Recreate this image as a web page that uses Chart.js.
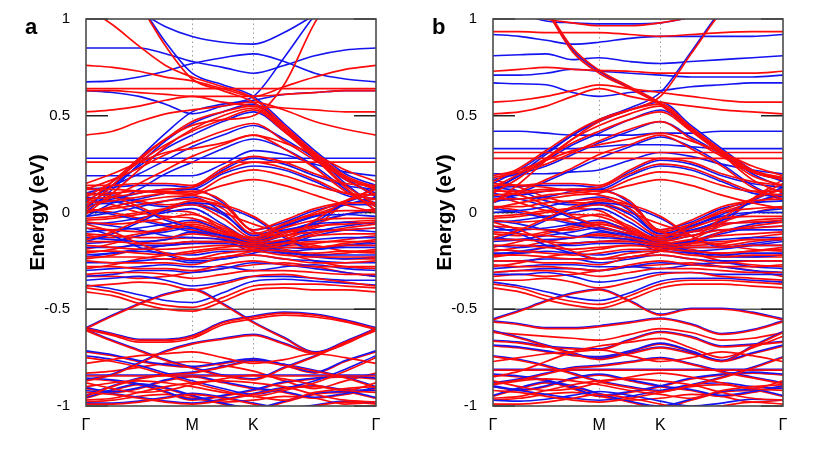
<!DOCTYPE html>
<html>
<head>
<meta charset="utf-8">
<script src="https://cdn.jsdelivr.net/npm/chart.js@4.4.1/dist/chart.umd.min.js"></script>
<style>
html,body{margin:0;padding:0;background:#fff;}
#wrap{position:relative;width:831px;height:450px;overflow:hidden;background:#fff;}
canvas{position:absolute;top:0;}
#ca{left:0;}
#cb{left:407px;}
</style>
</head>
<body>
<div id="wrap">
<canvas id="ca" width="400" height="450"></canvas>
<canvas id="cb" width="400" height="450"></canvas>
</div>
<script>
// k-path sample positions (Γ, ..., M, ..., K, ..., Γ)
const KX = [0, 0.25, 0.5, 0.75, 1, 1.289, 1.577, 1.866, 2.155, 2.443, 2.732];
const KPOS = [0, 1, 1.577, 2.732];
const KLAB = ["Γ", "M", "K", "Γ"];
const YTICKS = [-1, -0.5, 0, 0.5, 1];
const PANELS = ["a", "b"];

// ---------- panel a : spin-up (blue) ----------
const aBlueHigh = [
 [1.20,1.12,1.04,0.96,0.91,0.88,0.87,0.93,1.02,1.10,1.18],
 [0.85,0.85,0.85,0.82,0.78,0.75,0.72,0.76,0.81,0.84,0.85],
 [0.675,0.68,0.70,0.73,0.77,0.80,0.82,0.78,0.72,0.69,0.675],
 [0.63,0.62,0.60,0.56,0.51,0.55,0.58,0.61,0.62,0.63,0.63],
 [0.02,0.14,0.28,0.41,0.52,0.56,0.60,0.80,1.02,1.20,1.30],
 [0.28,0.28,0.28,0.28,0.28,0.28,0.28,0.28,0.28,0.28,0.28],
 [1.40,1.25,1.08,0.88,0.72,0.66,0.60,0.46,0.32,0.20,0.14]
];
const aBlueDisp = [
 [0.00,0.12,0.25,0.37,0.46,0.52,0.56,0.44,0.30,0.15,0.03],
 [0.06,0.14,0.24,0.33,0.40,0.47,0.52,0.42,0.30,0.18,0.08],
 [0.10,0.14,0.20,0.27,0.34,0.40,0.45,0.38,0.28,0.17,0.10],
 [-0.02,0.05,0.12,0.20,0.26,0.33,0.38,0.33,0.24,0.12,0.01],
 [0.12,0.13,0.14,0.14,0.13,0.22,0.28,0.25,0.19,0.14,0.12],
 [0.05,0.07,0.10,0.12,0.12,0.20,0.24,0.22,0.16,0.09,0.05],
 [0.19,0.19,0.19,0.19,0.19,0.25,0.32,0.30,0.25,0.21,0.19]
];
const aBlueDense = [
 [0.04,0.05,0.07,0.10,0.12,0.05,-0.09,-0.05,0.01,0.04,0.04],
 [-0.02,0.00,0.03,0.06,0.08,0.00,-0.12,-0.07,-0.02,-0.01,-0.02],
 [-0.06,-0.05,-0.03,0.00,0.02,-0.06,-0.14,-0.10,-0.06,-0.05,-0.06],
 [-0.10,-0.09,-0.08,-0.06,-0.04,-0.10,-0.16,-0.12,-0.09,-0.09,-0.10],
 [-0.13,-0.14,-0.15,-0.14,-0.10,-0.13,-0.17,-0.15,-0.14,-0.13,-0.13],
 [-0.18,-0.18,-0.17,-0.17,-0.16,-0.16,-0.18,-0.18,-0.19,-0.18,-0.18],
 [-0.22,-0.21,-0.20,-0.21,-0.22,-0.20,-0.20,-0.21,-0.22,-0.22,-0.22],
 [-0.26,-0.26,-0.25,-0.24,-0.26,-0.24,-0.22,-0.24,-0.25,-0.26,-0.26],
 [-0.30,-0.29,-0.28,-0.27,-0.28,-0.28,-0.30,-0.28,-0.27,-0.29,-0.30],
 [-0.35,-0.34,-0.33,-0.35,-0.38,-0.36,-0.33,-0.33,-0.34,-0.35,-0.35],
 [0.08,0.06,0.02,-0.04,-0.08,-0.12,-0.14,-0.07,-0.02,0.04,0.08],
 [-0.08,-0.12,-0.18,-0.22,-0.25,-0.24,-0.21,-0.17,-0.12,-0.09,-0.08],
 [-0.15,-0.11,-0.05,0.01,0.05,0.03,-0.03,-0.13,-0.19,-0.17,-0.15]
];
const aBlueExtra = [
 [0.01,-0.01,-0.04,-0.07,-0.10,-0.13,-0.15,-0.10,-0.05,-0.01,0.01],
 [-0.16,-0.15,-0.12,-0.10,-0.08,-0.12,-0.18,-0.20,-0.19,-0.17,-0.16],
 [-0.23,-0.21,-0.19,-0.17,-0.15,-0.15,-0.16,-0.20,-0.23,-0.24,-0.23],
 [0.10,0.09,0.05,0.03,0.04,-0.01,-0.11,-0.09,-0.05,0.05,0.10],
 [-0.33,-0.32,-0.30,-0.30,-0.31,-0.29,-0.26,-0.27,-0.29,-0.31,-0.33],
 [-0.05,-0.07,-0.09,-0.12,-0.13,-0.14,-0.20,-0.15,-0.10,-0.07,-0.05]
];
const aBlueLow = [
 [-0.375,-0.395,-0.425,-0.455,-0.465,-0.415,-0.355,-0.345,-0.355,-0.365,-0.375],
 [-0.595,-0.53,-0.47,-0.42,-0.395,-0.47,-0.565,-0.645,-0.72,-0.675,-0.595],
 [-0.595,-0.625,-0.655,-0.655,-0.635,-0.565,-0.535,-0.515,-0.525,-0.555,-0.595],
 [-0.84,-0.84,-0.84,-0.84,-0.84,-0.84,-0.84,-0.84,-0.84,-0.84,-0.84],
 [-0.605,-0.66,-0.71,-0.76,-0.80,-0.84,-0.86,-0.80,-0.74,-0.67,-0.605],
 [-0.865,-0.835,-0.775,-0.715,-0.675,-0.65,-0.63,-0.675,-0.725,-0.665,-0.60],
 [-0.945,-0.895,-0.855,-0.835,-0.825,-0.795,-0.765,-0.785,-0.815,-0.85,-0.90],
 [-0.92,-0.935,-0.955,-0.975,-0.985,-0.965,-0.935,-0.905,-0.895,-0.915,-0.92],
 [-0.74,-0.76,-0.79,-0.83,-0.87,-0.91,-0.94,-0.91,-0.87,-0.81,-0.74],
 [-0.985,-0.985,-0.975,-0.955,-0.935,-0.955,-0.985,-1.01,-0.995,-0.975,-0.985]
];
const aBlueDeep = [
 [-0.955,-0.915,-0.885,-0.905,-0.945,-0.985,-1.01,-0.975,-0.935,-0.925,-0.955],
 [-0.855,-0.865,-0.885,-0.925,-0.965,-0.945,-0.915,-0.875,-0.855,-0.845,-0.855],
 [-0.715,-0.735,-0.765,-0.785,-0.795,-0.775,-0.755,-0.785,-0.825,-0.765,-0.715],
 [-0.905,-0.925,-0.905,-0.865,-0.845,-0.875,-0.905,-0.925,-0.955,-0.935,-0.905]
];
// ---------- panel a : spin-down (red) ----------
const aRedHigh = [
 [1.06,0.97,0.86,0.76,0.70,0.65,0.59,0.45,0.31,0.19,0.13],
 [1.45,1.28,1.08,0.86,0.69,0.63,0.57,0.44,0.30,0.18,0.12],
 [0.76,0.75,0.73,0.70,0.68,0.64,0.60,0.65,0.70,0.74,0.76],
 [0.64,0.64,0.64,0.64,0.64,0.64,0.64,0.64,0.64,0.64,0.64],
 [0.63,0.63,0.62,0.61,0.60,0.60,0.60,0.61,0.62,0.63,0.63],
 [0.52,0.53,0.55,0.58,0.60,0.57,0.55,0.54,0.53,0.52,0.52],
 [0.40,0.42,0.47,0.51,0.53,0.55,0.57,0.53,0.47,0.43,0.40],
 [0.26,0.26,0.26,0.26,0.26,0.26,0.26,0.26,0.26,0.26,0.26],
 [0.05,0.16,0.28,0.38,0.45,0.48,0.50,0.66,0.98,1.20,1.30]
];
const aRedDisp = [
 [0.03,0.14,0.27,0.38,0.47,0.52,0.55,0.43,0.29,0.14,0.04],
 [0.08,0.16,0.26,0.35,0.42,0.48,0.53,0.42,0.29,0.17,0.09],
 [0.12,0.17,0.23,0.30,0.36,0.42,0.46,0.37,0.27,0.18,0.12],
 [0.02,0.08,0.15,0.22,0.29,0.35,0.40,0.33,0.23,0.11,0.03],
 [0.14,0.14,0.15,0.15,0.14,0.23,0.29,0.26,0.20,0.15,0.14],
 [0.07,0.08,0.10,0.12,0.13,0.21,0.26,0.23,0.17,0.10,0.07],
 [0.09,0.10,0.11,0.11,0.10,0.18,0.22,0.19,0.14,0.10,0.09],
 [0.00,0.03,0.06,0.08,0.09,0.14,0.17,0.14,0.09,0.04,0.00],
 [0.15,0.20,0.26,0.31,0.33,0.36,0.40,0.36,0.30,0.22,0.16],
 [-0.01,0.10,0.22,0.34,0.43,0.50,0.54,0.42,0.28,0.13,0.01]
];
const aRedDense = [
 [0.05,0.06,0.08,0.10,0.11,0.06,-0.09,-0.04,0.02,0.05,0.05],
 [0.01,0.02,0.04,0.06,0.07,0.02,-0.11,-0.06,-0.01,0.01,0.01],
 [-0.03,-0.02,0.00,0.02,0.04,-0.03,-0.13,-0.08,-0.04,-0.03,-0.03],
 [-0.05,-0.06,-0.05,-0.03,-0.01,-0.07,-0.14,-0.10,-0.07,-0.06,-0.05],
 [-0.08,-0.09,-0.10,-0.09,-0.06,-0.10,-0.15,-0.12,-0.10,-0.09,-0.08],
 [-0.11,-0.12,-0.13,-0.13,-0.11,-0.13,-0.16,-0.14,-0.12,-0.11,-0.11],
 [-0.15,-0.15,-0.16,-0.16,-0.15,-0.15,-0.17,-0.16,-0.15,-0.15,-0.15],
 [-0.17,-0.18,-0.19,-0.19,-0.18,-0.17,-0.18,-0.18,-0.18,-0.17,-0.17],
 [-0.20,-0.20,-0.21,-0.22,-0.21,-0.19,-0.19,-0.20,-0.21,-0.20,-0.20],
 [-0.23,-0.23,-0.23,-0.24,-0.24,-0.21,-0.20,-0.22,-0.23,-0.23,-0.23],
 [-0.25,-0.26,-0.26,-0.26,-0.27,-0.23,-0.22,-0.24,-0.26,-0.26,-0.25],
 [-0.28,-0.28,-0.29,-0.29,-0.30,-0.27,-0.25,-0.27,-0.28,-0.28,-0.28],
 [-0.32,-0.31,-0.31,-0.32,-0.34,-0.32,-0.30,-0.30,-0.31,-0.32,-0.32],
 [0.10,0.08,0.03,-0.03,-0.07,-0.11,-0.13,-0.06,0.00,0.06,0.10],
 [-0.06,-0.10,-0.16,-0.21,-0.24,-0.23,-0.20,-0.16,-0.11,-0.08,-0.06],
 [0.12,0.12,0.11,0.10,0.09,0.04,-0.10,-0.12,-0.04,0.06,0.12],
 [-0.38,-0.37,-0.36,-0.37,-0.40,-0.37,-0.33,-0.32,-0.34,-0.36,-0.38],
 [-0.14,-0.10,-0.04,0.02,0.06,0.04,-0.02,-0.12,-0.18,-0.16,-0.14]
];
const aRedExtra = [
 [0.02,0.00,-0.03,-0.06,-0.09,-0.12,-0.15,-0.11,-0.06,-0.01,0.02],
 [-0.12,-0.13,-0.11,-0.08,-0.05,-0.09,-0.15,-0.17,-0.16,-0.14,-0.12],
 [-0.19,-0.16,-0.12,-0.09,-0.07,-0.11,-0.17,-0.20,-0.22,-0.21,-0.19],
 [-0.24,-0.22,-0.19,-0.17,-0.16,-0.15,-0.16,-0.19,-0.22,-0.24,-0.24],
 [-0.29,-0.27,-0.24,-0.22,-0.20,-0.18,-0.17,-0.21,-0.25,-0.28,-0.29],
 [0.07,0.04,0.00,-0.02,-0.03,-0.08,-0.14,-0.08,-0.01,0.04,0.07],
 [-0.04,-0.03,-0.01,0.01,0.00,-0.09,-0.19,-0.14,-0.08,-0.05,-0.04],
 [-0.33,-0.33,-0.34,-0.33,-0.31,-0.29,-0.27,-0.26,-0.28,-0.31,-0.33],
 [-0.21,-0.19,-0.16,-0.14,-0.13,-0.14,-0.16,-0.15,-0.17,-0.20,-0.21],
 [0.13,0.10,0.06,0.04,0.05,0.00,-0.06,-0.10,-0.07,0.05,0.13]
];
const aRedLow = [
 [-0.39,-0.41,-0.45,-0.48,-0.49,-0.44,-0.38,-0.37,-0.37,-0.38,-0.39],
 [-0.41,-0.43,-0.47,-0.50,-0.51,-0.46,-0.40,-0.39,-0.40,-0.40,-0.41],
 [-0.60,-0.535,-0.475,-0.425,-0.40,-0.475,-0.57,-0.65,-0.725,-0.68,-0.60],
 [-0.60,-0.63,-0.66,-0.66,-0.64,-0.57,-0.54,-0.52,-0.53,-0.56,-0.60],
 [-0.605,-0.635,-0.67,-0.67,-0.65,-0.58,-0.55,-0.53,-0.54,-0.565,-0.605],
 [-0.61,-0.665,-0.715,-0.765,-0.805,-0.845,-0.865,-0.805,-0.745,-0.675,-0.61],
 [-0.845,-0.845,-0.845,-0.845,-0.845,-0.845,-0.845,-0.845,-0.845,-0.845,-0.845],
 [-0.87,-0.84,-0.78,-0.72,-0.68,-0.655,-0.635,-0.68,-0.73,-0.67,-0.605],
 [-0.95,-0.90,-0.86,-0.84,-0.83,-0.80,-0.77,-0.79,-0.82,-0.855,-0.905],
 [-0.75,-0.77,-0.80,-0.84,-0.88,-0.92,-0.95,-0.92,-0.88,-0.82,-0.75],
 [-0.90,-0.88,-0.87,-0.88,-0.90,-0.93,-0.95,-0.97,-0.93,-0.91,-0.90],
 [-0.93,-0.94,-0.96,-0.98,-0.99,-0.97,-0.94,-0.91,-0.90,-0.92,-0.93],
 [-0.97,-0.96,-0.93,-0.90,-0.88,-0.87,-0.88,-0.90,-0.94,-0.97,-0.98],
 [-0.99,-0.99,-0.98,-0.96,-0.94,-0.96,-0.99,-1.02,-1.00,-0.98,-0.99],
 [-0.78,-0.76,-0.74,-0.73,-0.72,-0.75,-0.78,-0.76,-0.73,-0.75,-0.78],
 [-0.88,-0.91,-0.93,-0.92,-0.89,-0.86,-0.84,-0.86,-0.89,-0.92,-0.88]
];
const aRedDeep = [
 [-0.96,-0.92,-0.89,-0.91,-0.95,-0.99,-1.02,-0.98,-0.94,-0.93,-0.96],
 [-0.91,-0.93,-0.91,-0.87,-0.85,-0.88,-0.91,-0.93,-0.96,-0.94,-0.91],
 [-0.86,-0.87,-0.89,-0.93,-0.97,-0.95,-0.92,-0.88,-0.86,-0.85,-0.86],
 [-0.98,-0.97,-0.95,-0.94,-0.96,-0.98,-0.97,-0.95,-0.96,-0.99,-0.98],
 [-0.72,-0.74,-0.77,-0.79,-0.80,-0.78,-0.76,-0.79,-0.83,-0.77,-0.72],
 [-0.83,-0.82,-0.80,-0.78,-0.77,-0.79,-0.82,-0.87,-0.91,-0.87,-0.83]
];

// ---------- panel b : spin-up (blue) ----------
const bBlueHigh = [
 [1.08,1.03,0.99,0.98,0.975,0.975,0.98,1.01,1.05,1.08,1.08],
 [0.92,0.91,0.89,0.87,0.88,0.90,0.91,0.91,0.91,0.91,0.92],
 [0.81,0.815,0.82,0.79,0.80,0.78,0.77,0.78,0.79,0.80,0.81],
 [0.71,0.71,0.72,0.74,0.73,0.72,0.71,0.70,0.70,0.70,0.71],
 [0.67,0.665,0.66,0.62,0.60,0.62,0.63,0.65,0.66,0.67,0.67],
 [0.10,0.20,0.30,0.40,0.48,0.54,0.62,0.83,1.05,1.20,1.30],
 [0.42,0.42,0.41,0.40,0.40,0.40,0.41,0.41,0.42,0.42,0.42],
 [0.33,0.33,0.33,0.33,0.34,0.35,0.35,0.34,0.33,0.33,0.33],
 [1.52,1.29,1.05,0.84,0.73,0.645,0.56,0.435,0.315,0.215,0.175]
];
const bBlueDisp = [
 [0.15,0.22,0.31,0.40,0.47,0.53,0.57,0.45,0.33,0.22,0.16],
 [0.12,0.19,0.27,0.35,0.41,0.48,0.53,0.43,0.31,0.20,0.13],
 [0.17,0.20,0.24,0.30,0.36,0.42,0.47,0.39,0.30,0.21,0.17],
 [0.05,0.10,0.16,0.22,0.28,0.34,0.39,0.34,0.25,0.14,0.06],
 [0.13,0.135,0.14,0.14,0.13,0.21,0.27,0.25,0.19,0.15,0.13],
 [0.08,0.09,0.11,0.12,0.12,0.19,0.24,0.22,0.16,0.10,0.08],
 [0.20,0.20,0.20,0.21,0.22,0.27,0.31,0.29,0.25,0.22,0.20]
];
const bBlueDense = [
 [0.06,0.07,0.08,0.11,0.12,0.05,-0.09,-0.05,0.02,0.05,0.06],
 [0.00,0.01,0.03,0.06,0.08,0.01,-0.11,-0.07,-0.02,0.00,0.00],
 [-0.05,-0.04,-0.02,0.00,0.02,-0.05,-0.13,-0.10,-0.06,-0.05,-0.05],
 [-0.09,-0.09,-0.08,-0.06,-0.04,-0.10,-0.15,-0.12,-0.09,-0.09,-0.09],
 [-0.13,-0.14,-0.14,-0.13,-0.10,-0.13,-0.17,-0.15,-0.14,-0.13,-0.13],
 [-0.17,-0.18,-0.17,-0.17,-0.16,-0.16,-0.18,-0.18,-0.18,-0.17,-0.17],
 [-0.21,-0.21,-0.20,-0.21,-0.22,-0.20,-0.20,-0.21,-0.22,-0.21,-0.21],
 [-0.25,-0.25,-0.24,-0.24,-0.26,-0.24,-0.22,-0.24,-0.25,-0.25,-0.25],
 [-0.29,-0.28,-0.27,-0.27,-0.28,-0.28,-0.29,-0.27,-0.26,-0.28,-0.29],
 [-0.32,-0.32,-0.31,-0.33,-0.36,-0.34,-0.31,-0.31,-0.32,-0.32,-0.32],
 [0.10,0.07,0.03,-0.03,-0.07,-0.11,-0.13,-0.07,-0.01,0.05,0.10],
 [-0.07,-0.11,-0.17,-0.21,-0.24,-0.23,-0.20,-0.16,-0.11,-0.08,-0.07],
 [-0.14,-0.10,-0.04,0.02,0.05,0.03,-0.03,-0.12,-0.18,-0.16,-0.14]
];
const bBlueExtra = [
 [0.02,0.00,-0.03,-0.06,-0.09,-0.12,-0.15,-0.10,-0.04,0.00,0.02],
 [-0.15,-0.14,-0.12,-0.10,-0.08,-0.12,-0.18,-0.20,-0.19,-0.17,-0.15],
 [-0.22,-0.20,-0.18,-0.16,-0.15,-0.15,-0.16,-0.20,-0.23,-0.23,-0.22],
 [0.13,0.11,0.06,0.04,0.04,-0.01,-0.11,-0.09,-0.04,0.06,0.13],
 [-0.31,-0.30,-0.29,-0.29,-0.30,-0.28,-0.26,-0.27,-0.28,-0.30,-0.31],
 [-0.04,-0.06,-0.09,-0.12,-0.13,-0.14,-0.20,-0.15,-0.10,-0.06,-0.04]
];
const bBlueLow = [
 [-0.36,-0.38,-0.41,-0.44,-0.455,-0.415,-0.355,-0.34,-0.34,-0.35,-0.36],
 [-0.55,-0.505,-0.455,-0.415,-0.395,-0.455,-0.525,-0.495,-0.495,-0.515,-0.55],
 [-0.56,-0.575,-0.595,-0.595,-0.585,-0.565,-0.545,-0.575,-0.625,-0.605,-0.56],
 [-0.81,-0.81,-0.81,-0.81,-0.81,-0.81,-0.81,-0.81,-0.81,-0.81,-0.81],
 [-0.61,-0.645,-0.685,-0.725,-0.755,-0.725,-0.695,-0.725,-0.765,-0.69,-0.615],
 [-0.66,-0.67,-0.69,-0.70,-0.705,-0.655,-0.615,-0.64,-0.69,-0.68,-0.665],
 [-0.88,-0.86,-0.83,-0.80,-0.79,-0.77,-0.75,-0.78,-0.82,-0.85,-0.88],
 [-0.90,-0.92,-0.94,-0.96,-0.97,-0.95,-0.92,-0.89,-0.88,-0.90,-0.91],
 [-0.74,-0.76,-0.79,-0.83,-0.87,-0.90,-0.92,-0.89,-0.85,-0.80,-0.745],
 [-0.97,-0.975,-0.965,-0.945,-0.925,-0.945,-0.975,-1.0,-0.985,-0.965,-0.97]
];
const bBlueDeep = [
 [-0.945,-0.905,-0.875,-0.895,-0.935,-0.975,-1.0,-0.965,-0.925,-0.915,-0.945],
 [-0.835,-0.845,-0.865,-0.905,-0.945,-0.925,-0.895,-0.855,-0.835,-0.825,-0.835],
 [-0.685,-0.695,-0.715,-0.735,-0.745,-0.715,-0.675,-0.715,-0.765,-0.725,-0.685],
 [-0.895,-0.915,-0.895,-0.855,-0.835,-0.865,-0.895,-0.915,-0.945,-0.925,-0.895]
];
// ---------- panel b : spin-down (red) ----------
const bRedHigh = [
 [0.935,0.935,0.93,0.93,0.93,0.92,0.91,0.92,0.93,0.935,0.935],
 [1.08,1.04,1.00,0.98,0.965,0.965,0.98,1.01,1.05,1.08,1.08],
 [0.73,0.74,0.75,0.74,0.735,0.73,0.72,0.72,0.72,0.72,0.73],
 [0.57,0.58,0.60,0.63,0.66,0.64,0.62,0.60,0.58,0.57,0.57],
 [0.51,0.52,0.55,0.60,0.64,0.60,0.57,0.55,0.53,0.52,0.51],
 [1.55,1.30,1.06,0.85,0.735,0.65,0.565,0.44,0.32,0.22,0.18],
 [1.50,1.28,1.05,0.83,0.72,0.64,0.555,0.43,0.31,0.21,0.17],
 [0.05,0.15,0.27,0.38,0.47,0.53,0.60,0.82,1.04,1.20,1.30],
 [0.31,0.31,0.31,0.31,0.31,0.31,0.31,0.31,0.31,0.31,0.31],
 [0.28,0.28,0.28,0.28,0.28,0.28,0.28,0.28,0.28,0.28,0.28]
];
const bRedDisp = [
 [0.16,0.23,0.32,0.41,0.48,0.53,0.56,0.44,0.32,0.21,0.17],
 [0.13,0.20,0.28,0.36,0.42,0.48,0.52,0.42,0.30,0.19,0.14],
 [0.18,0.21,0.25,0.31,0.37,0.43,0.47,0.38,0.29,0.21,0.18],
 [0.06,0.11,0.17,0.23,0.30,0.35,0.40,0.33,0.24,0.13,0.07],
 [0.14,0.14,0.15,0.15,0.14,0.22,0.28,0.26,0.20,0.16,0.14],
 [0.09,0.10,0.11,0.12,0.13,0.20,0.25,0.23,0.17,0.11,0.09],
 [0.11,0.11,0.12,0.12,0.11,0.17,0.21,0.19,0.14,0.11,0.11],
 [0.02,0.05,0.07,0.09,0.10,0.14,0.17,0.14,0.09,0.05,0.02],
 [0.19,0.22,0.27,0.32,0.35,0.38,0.41,0.37,0.31,0.24,0.19],
 [0.10,0.18,0.28,0.38,0.45,0.51,0.55,0.43,0.30,0.17,0.10]
];
const bRedDense = [
 [0.07,0.07,0.09,0.10,0.11,0.06,-0.09,-0.04,0.03,0.06,0.07],
 [0.03,0.03,0.05,0.06,0.07,0.02,-0.10,-0.06,0.00,0.02,0.03],
 [-0.02,-0.01,0.01,0.02,0.04,-0.03,-0.12,-0.08,-0.03,-0.02,-0.02],
 [-0.04,-0.05,-0.04,-0.03,-0.01,-0.07,-0.14,-0.10,-0.06,-0.05,-0.04],
 [-0.07,-0.08,-0.09,-0.09,-0.06,-0.10,-0.15,-0.12,-0.09,-0.08,-0.07],
 [-0.10,-0.11,-0.12,-0.13,-0.11,-0.13,-0.16,-0.14,-0.12,-0.11,-0.10],
 [-0.14,-0.14,-0.15,-0.16,-0.15,-0.15,-0.17,-0.16,-0.15,-0.14,-0.14],
 [-0.17,-0.17,-0.18,-0.19,-0.18,-0.17,-0.18,-0.18,-0.18,-0.17,-0.17],
 [-0.19,-0.20,-0.21,-0.22,-0.21,-0.19,-0.19,-0.20,-0.21,-0.20,-0.19],
 [-0.22,-0.22,-0.23,-0.24,-0.24,-0.21,-0.20,-0.22,-0.23,-0.22,-0.22],
 [-0.25,-0.25,-0.26,-0.26,-0.27,-0.23,-0.22,-0.24,-0.26,-0.25,-0.25],
 [-0.27,-0.28,-0.28,-0.29,-0.30,-0.27,-0.25,-0.27,-0.28,-0.28,-0.27],
 [-0.31,-0.30,-0.30,-0.31,-0.33,-0.31,-0.29,-0.29,-0.30,-0.31,-0.31],
 [0.12,0.09,0.04,-0.02,-0.07,-0.11,-0.13,-0.06,0.01,0.07,0.12],
 [-0.05,-0.09,-0.15,-0.20,-0.24,-0.23,-0.20,-0.16,-0.10,-0.07,-0.05],
 [0.15,0.14,0.13,0.11,0.09,0.04,-0.10,-0.12,-0.03,0.07,0.15],
 [-0.35,-0.35,-0.34,-0.36,-0.39,-0.36,-0.32,-0.31,-0.33,-0.34,-0.35],
 [-0.13,-0.09,-0.03,0.03,0.06,0.04,-0.02,-0.12,-0.17,-0.15,-0.13]
];
const bRedExtra = [
 [0.03,0.01,-0.02,-0.05,-0.08,-0.11,-0.14,-0.10,-0.05,0.00,0.03],
 [-0.11,-0.12,-0.10,-0.07,-0.05,-0.09,-0.15,-0.17,-0.16,-0.13,-0.11],
 [-0.18,-0.15,-0.11,-0.08,-0.06,-0.10,-0.17,-0.20,-0.21,-0.20,-0.18],
 [-0.23,-0.21,-0.18,-0.16,-0.15,-0.14,-0.16,-0.19,-0.22,-0.23,-0.23],
 [-0.28,-0.26,-0.23,-0.21,-0.19,-0.17,-0.17,-0.21,-0.25,-0.27,-0.28],
 [0.09,0.05,0.01,-0.01,-0.02,-0.08,-0.14,-0.08,0.00,0.05,0.09],
 [-0.03,-0.02,0.00,0.02,0.01,-0.09,-0.19,-0.14,-0.07,-0.04,-0.03],
 [-0.33,-0.32,-0.33,-0.32,-0.30,-0.28,-0.27,-0.26,-0.28,-0.30,-0.33],
 [-0.20,-0.18,-0.15,-0.13,-0.12,-0.14,-0.16,-0.15,-0.17,-0.19,-0.20],
 [0.17,0.13,0.08,0.05,0.05,0.00,-0.06,-0.10,-0.06,0.07,0.17]
];
const bRedLow = [
 [-0.37,-0.39,-0.43,-0.46,-0.475,-0.43,-0.37,-0.35,-0.35,-0.36,-0.37],
 [-0.39,-0.41,-0.45,-0.48,-0.495,-0.45,-0.39,-0.37,-0.37,-0.38,-0.39],
 [-0.555,-0.51,-0.46,-0.42,-0.40,-0.46,-0.53,-0.50,-0.50,-0.52,-0.555],
 [-0.565,-0.58,-0.60,-0.60,-0.59,-0.57,-0.55,-0.58,-0.63,-0.61,-0.565],
 [-0.615,-0.65,-0.69,-0.73,-0.76,-0.73,-0.70,-0.73,-0.77,-0.695,-0.62],
 [-0.665,-0.675,-0.695,-0.705,-0.71,-0.66,-0.62,-0.645,-0.695,-0.685,-0.67],
 [-0.815,-0.815,-0.815,-0.815,-0.815,-0.815,-0.815,-0.815,-0.815,-0.815,-0.815],
 [-0.85,-0.82,-0.77,-0.72,-0.69,-0.67,-0.65,-0.70,-0.75,-0.70,-0.64],
 [-0.885,-0.865,-0.835,-0.805,-0.795,-0.775,-0.755,-0.785,-0.825,-0.855,-0.885],
 [-0.745,-0.765,-0.795,-0.835,-0.875,-0.905,-0.925,-0.895,-0.855,-0.805,-0.75],
 [-0.89,-0.87,-0.86,-0.87,-0.89,-0.92,-0.94,-0.96,-0.92,-0.90,-0.89],
 [-0.92,-0.93,-0.95,-0.97,-0.98,-0.96,-0.93,-0.90,-0.89,-0.91,-0.92],
 [-0.96,-0.95,-0.92,-0.89,-0.87,-0.86,-0.87,-0.89,-0.93,-0.96,-0.97],
 [-0.99,-0.99,-0.98,-0.96,-0.94,-0.96,-0.99,-1.02,-1.00,-0.98,-0.99],
 [-0.77,-0.75,-0.73,-0.72,-0.71,-0.74,-0.77,-0.75,-0.72,-0.74,-0.77],
 [-0.87,-0.90,-0.92,-0.91,-0.88,-0.85,-0.83,-0.85,-0.88,-0.91,-0.87]
];
const bRedDeep = [
 [-0.95,-0.91,-0.88,-0.90,-0.94,-0.98,-1.01,-0.97,-0.93,-0.92,-0.95],
 [-0.90,-0.92,-0.90,-0.86,-0.84,-0.87,-0.90,-0.92,-0.95,-0.93,-0.90],
 [-0.84,-0.85,-0.87,-0.91,-0.95,-0.93,-0.90,-0.86,-0.84,-0.83,-0.84],
 [-0.97,-0.96,-0.94,-0.93,-0.95,-0.97,-0.96,-0.94,-0.95,-0.98,-0.97],
 [-0.69,-0.70,-0.72,-0.74,-0.75,-0.72,-0.68,-0.72,-0.77,-0.73,-0.69],
 [-0.62,-0.63,-0.64,-0.65,-0.66,-0.63,-0.60,-0.62,-0.66,-0.65,-0.62]
];

const BLUE = "#1414f0";
const RED = "#ff0a0a";
const FONT = "'Liberation Sans', Arial, Helvetica, sans-serif";

function bandSets(rows, color, width, order) {
  return rows.map(row => ({
    data: row.map((y, i) => ({ x: KX[i], y: y })),
    borderColor: color,
    borderWidth: width,
    pointRadius: 0,
    fill: false,
    cubicInterpolationMode: "monotone",
    clip: 0,
    order: order
  }));
}

const guides = {
  id: "guides",
  beforeDatasetsDraw(chart) {
    const { ctx, chartArea: ca, scales } = chart;
    const xs = scales.x, ys = scales.y;
    ctx.save();
    ctx.strokeStyle = "#9a9a9a";
    ctx.lineWidth = 1;
    ctx.setLineDash([1.5, 3]);
    [KPOS[1], KPOS[2]].forEach(v => {
      const px = Math.round(xs.getPixelForValue(v)) + 0.5;
      ctx.beginPath(); ctx.moveTo(px, ca.top); ctx.lineTo(px, ca.bottom); ctx.stroke();
    });
    const y0 = Math.round(ys.getPixelForValue(0)) + 0.5;
    ctx.beginPath(); ctx.moveTo(ca.left, y0); ctx.lineTo(ca.right, y0); ctx.stroke();
    ctx.setLineDash([]);
    ctx.strokeStyle = "#555";
    ctx.lineWidth = 1.5;
    const ym = ys.getPixelForValue(-0.5);
    ctx.beginPath(); ctx.moveTo(ca.left, ym); ctx.lineTo(ca.right, ym); ctx.stroke();
    ctx.lineWidth = 1.3;
    ctx.strokeStyle = "#222";
    YTICKS.forEach(v => {
      const py = ys.getPixelForValue(v);
      ctx.beginPath();
      ctx.moveTo(ca.left, py); ctx.lineTo(ca.left + 22, py);
      ctx.moveTo(ca.right - 22, py); ctx.lineTo(ca.right, py);
      ctx.stroke();
    });
    ctx.restore();
  },
  afterDraw(chart, args, opts) {
    const { ctx, chartArea: ca } = chart;
    ctx.save();
    ctx.strokeStyle = "#4a4a4a";
    ctx.lineWidth = 1.6;
    ctx.strokeRect(ca.left, ca.top, ca.right - ca.left, ca.bottom - ca.top);
    ctx.fillStyle = "#000";
    ctx.font = "bold 22px " + FONT;
    ctx.textBaseline = "alphabetic";
    ctx.textAlign = "left";
    ctx.fillText(opts.label, 25, 34);
    ctx.restore();
  }
};

function makeChart(id, label, groups) {
  let datasets = [];
  groups.forEach(g => { datasets = datasets.concat(bandSets(g[0], g[1], g[2], g[3])); });
  return new Chart(document.getElementById(id), {
    type: "line",
    data: { datasets: datasets },
    options: {
      responsive: false,
      animation: false,
      events: [],
      layout: { padding: { top: 19, right: 24, left: 0, bottom: 0 } },
      plugins: { legend: { display: false }, tooltip: { enabled: false }, guides: { label: label } },
      scales: {
        x: {
          type: "linear",
          min: KX[0], max: KX[KX.length - 1],
          grid: { display: false },
          border: { display: false },
          afterFit(s) { s.height = 44; },
          afterBuildTicks(s) { s.ticks = KPOS.map(v => ({ value: v })); },
          ticks: {
            autoSkip: false, maxRotation: 0, padding: 2,
            color: "#000",
            font: { family: FONT, size: 16 },
            callback: (v, i) => KLAB[i]
          }
        },
        y: {
          min: -1, max: 1,
          grid: { display: false },
          border: { display: false },
          afterFit(s) { s.width = 86; },
          afterBuildTicks(s) { s.ticks = YTICKS.map(v => ({ value: v })); },
          ticks: {
            padding: 8, color: "#000",
            font: { family: FONT, size: 15 },
            callback: v => String(v)
          },
          title: {
            display: true, text: "Energy (eV)", color: "#000",
            font: { family: FONT, size: 21, weight: "bold" },
            padding: { top: 26, bottom: 0 }
          }
        }
      }
    },
    plugins: [guides]
  });
}

// draw order: lower "order" is painted on top
const RW = 1.7, BW = 1.6;
makeChart("ca", PANELS[0], [
  [aRedHigh, RED, RW, 0], [aRedDisp, RED, RW, 0], [aRedDense, RED, RW, 0], [aRedExtra, RED, RW, 2],
  [aRedLow, RED, RW, 0], [aRedDeep, RED, RW, 2],
  [aBlueHigh, BLUE, BW, 1], [aBlueDisp, BLUE, BW, 1], [aBlueDense, BLUE, BW, 1], [aBlueExtra, BLUE, BW, 1],
  [aBlueLow, BLUE, BW, 1], [aBlueDeep, BLUE, BW, 1]
]);
makeChart("cb", PANELS[1], [
  [bRedHigh, RED, RW, 0], [bRedDisp, RED, RW, 0], [bRedDense, RED, RW, 0], [bRedExtra, RED, RW, 2],
  [bRedLow, RED, RW, 0], [bRedDeep, RED, RW, 2],
  [bBlueHigh, BLUE, BW, 1], [bBlueDisp, BLUE, BW, 1], [bBlueDense, BLUE, BW, 1], [bBlueExtra, BLUE, BW, 1],
  [bBlueLow, BLUE, BW, 1], [bBlueDeep, BLUE, BW, 1]
]);
</script>
</body>
</html>
